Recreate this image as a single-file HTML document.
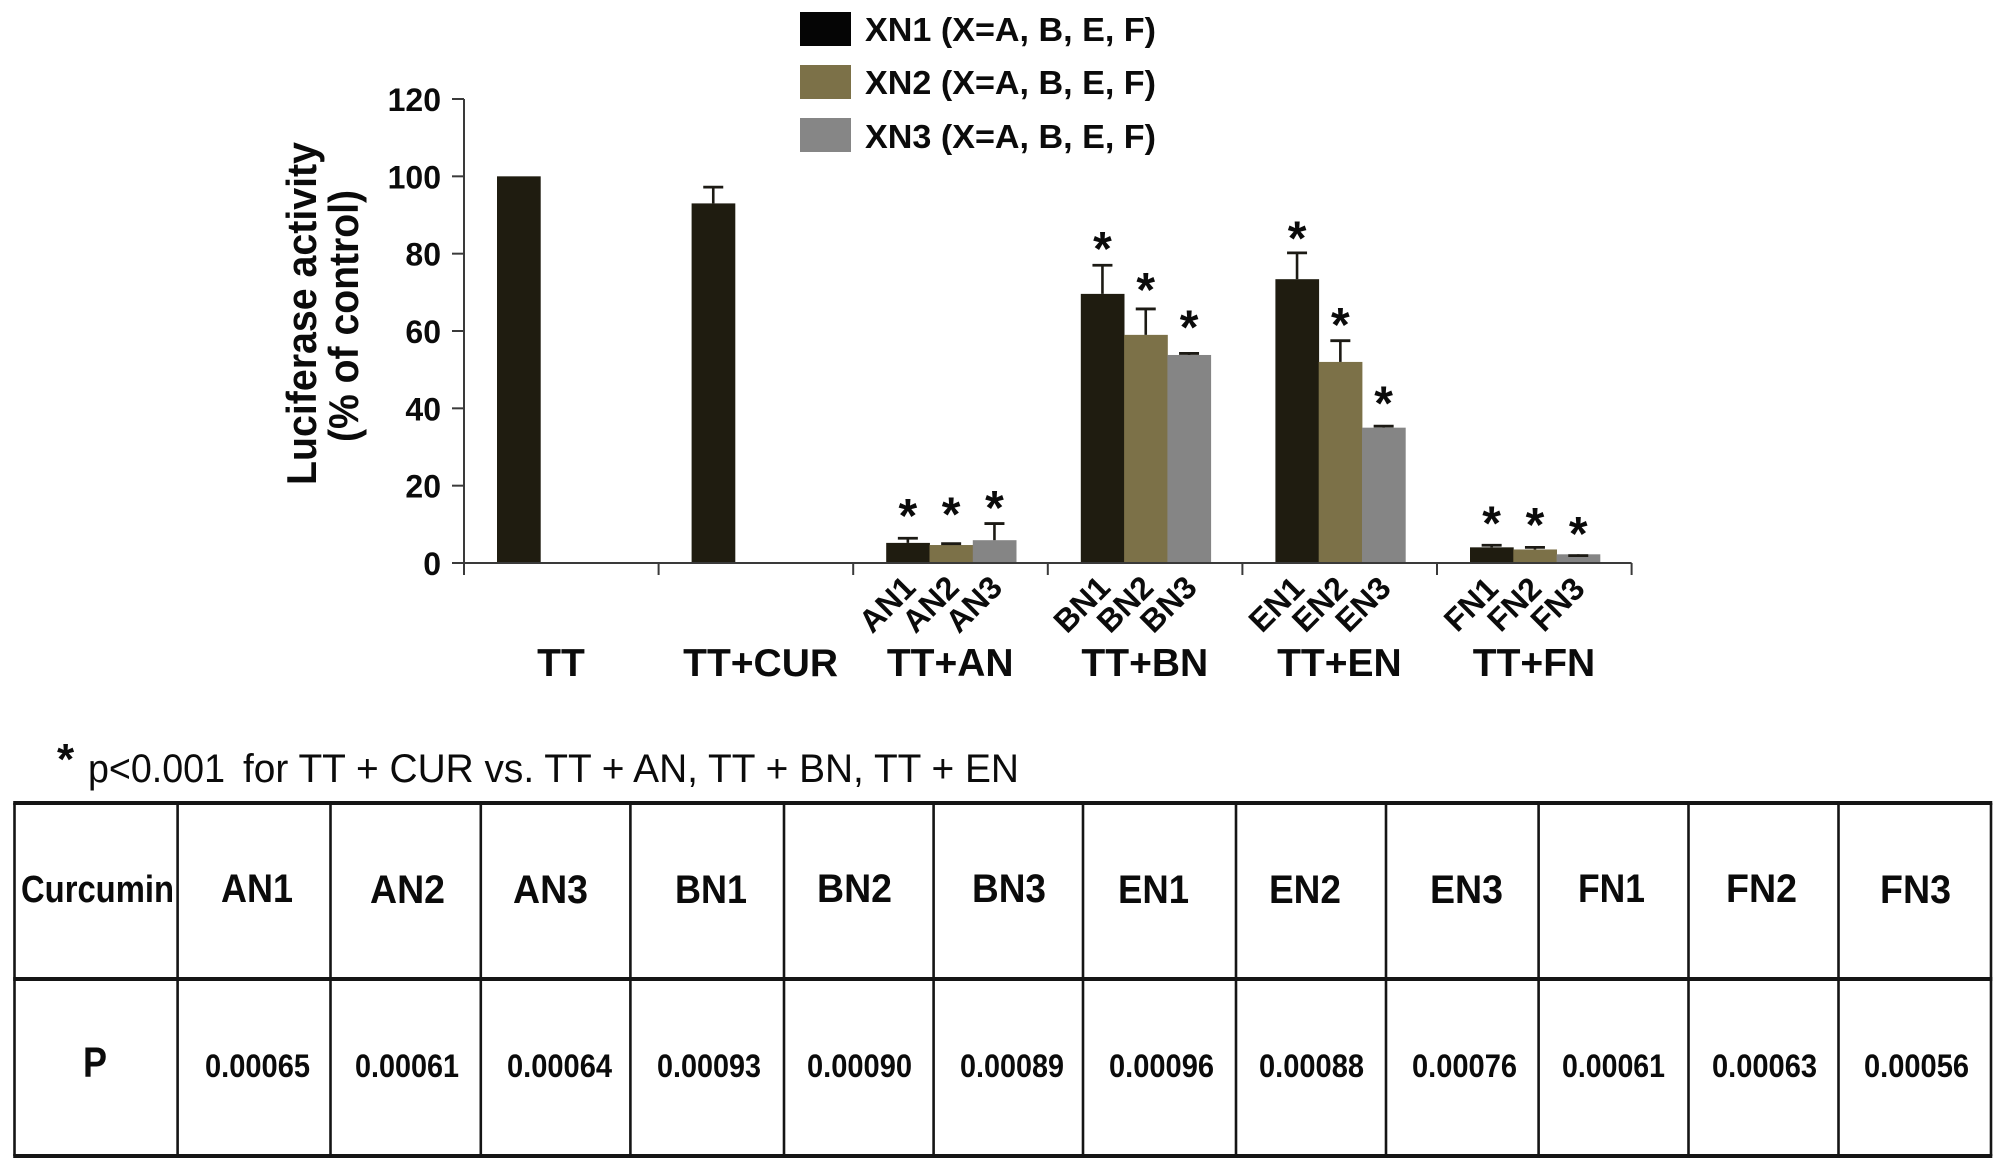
<!DOCTYPE html>
<html lang="en">
<head>
<meta charset="utf-8">
<title>Luciferase activity chart</title>
<style>
html,body{margin:0;padding:0;background:#fff;}
svg{display:block;}
text{font-family:"Liberation Sans",sans-serif;fill:#0b0b0b;}
.b{font-weight:bold;}
.hl{stroke:#151515;stroke-width:4;}
.vl{stroke:#151515;stroke-width:2.6;}
.th{font-weight:bold;font-size:40px;}
.tv{font-weight:bold;font-size:32px;}
</style>
</head>
<body>
<svg id="fig" xmlns="http://www.w3.org/2000/svg" width="2009" height="1169" viewBox="0 0 2009 1169">
  <rect x="0" y="0" width="2009" height="1169" fill="#fff"/>

  <g>
    <g>
      <rect x="800" y="12" width="51" height="34" fill="#050505"/>
      <text class="b" x="865" y="41" font-size="33" textLength="291" lengthAdjust="spacingAndGlyphs">XN1 (X=A, B, E, F)</text>
    </g>
    <g>
      <rect x="800" y="65" width="51" height="34" fill="#7c7148"/>
      <text class="b" x="865" y="94" font-size="33" textLength="291" lengthAdjust="spacingAndGlyphs">XN2 (X=A, B, E, F)</text>
    </g>
    <g>
      <rect x="800" y="118" width="51" height="34" fill="#868686"/>
      <text class="b" x="865" y="148" font-size="33" textLength="291" lengthAdjust="spacingAndGlyphs">XN3 (X=A, B, E, F)</text>
    </g>
  </g>

  <text class="b" font-size="42" transform="translate(316 485) rotate(-90)" x="0" y="0" textLength="343" lengthAdjust="spacingAndGlyphs">Luciferase activity</text>
  <text class="b" font-size="42" transform="translate(358 442) rotate(-90)" x="0" y="0" textLength="252" lengthAdjust="spacingAndGlyphs">(% of control)</text>

  <g id="chart"></g>

  <g>
    <text class="b" x="57" y="774" font-size="44">*</text>
    <text x="88" y="782" font-size="40" textLength="137" lengthAdjust="spacingAndGlyphs">p&lt;0.001</text>
    <text x="243" y="782" font-size="40" textLength="776" lengthAdjust="spacingAndGlyphs">for TT + CUR vs. TT + AN, TT + BN, TT + EN</text>
  </g>

  <g>
    <line class="hl" x1="13.2" x2="1992.3" y1="803" y2="803"/>
    <line class="hl" x1="13.2" x2="1992.3" y1="979" y2="979"/>
    <line class="hl" x1="13.2" x2="1992.3" y1="1156" y2="1156"/>
    <line class="vl" x1="14.5" x2="14.5" y1="803" y2="1156"/>
    <line class="vl" x1="177.6" x2="177.6" y1="803" y2="1156"/>
    <line class="vl" x1="330.5" x2="330.5" y1="803" y2="1156"/>
    <line class="vl" x1="480.8" x2="480.8" y1="803" y2="1156"/>
    <line class="vl" x1="630.4" x2="630.4" y1="803" y2="1156"/>
    <line class="vl" x1="784" x2="784" y1="803" y2="1156"/>
    <line class="vl" x1="933.6" x2="933.6" y1="803" y2="1156"/>
    <line class="vl" x1="1083" x2="1083" y1="803" y2="1156"/>
    <line class="vl" x1="1236" x2="1236" y1="803" y2="1156"/>
    <line class="vl" x1="1386" x2="1386" y1="803" y2="1156"/>
    <line class="vl" x1="1538.6" x2="1538.6" y1="803" y2="1156"/>
    <line class="vl" x1="1688.5" x2="1688.5" y1="803" y2="1156"/>
    <line class="vl" x1="1838.5" x2="1838.5" y1="803" y2="1156"/>
    <line class="vl" x1="1991" x2="1991" y1="803" y2="1156"/>

    <text class="b" font-size="38" x="21" y="902" textLength="153" lengthAdjust="spacingAndGlyphs">Curcumin</text>
    <text class="th" x="221" y="902" textLength="72" lengthAdjust="spacingAndGlyphs">AN1</text>
    <text class="th" x="370" y="903" textLength="75" lengthAdjust="spacingAndGlyphs">AN2</text>
    <text class="th" x="513" y="903" textLength="75" lengthAdjust="spacingAndGlyphs">AN3</text>
    <text class="th" x="675" y="903" textLength="72" lengthAdjust="spacingAndGlyphs">BN1</text>
    <text class="th" x="817" y="902" textLength="75" lengthAdjust="spacingAndGlyphs">BN2</text>
    <text class="th" x="972" y="902" textLength="74" lengthAdjust="spacingAndGlyphs">BN3</text>
    <text class="th" x="1118" y="903" textLength="71" lengthAdjust="spacingAndGlyphs">EN1</text>
    <text class="th" x="1269" y="903" textLength="72" lengthAdjust="spacingAndGlyphs">EN2</text>
    <text class="th" x="1430" y="903" textLength="73" lengthAdjust="spacingAndGlyphs">EN3</text>
    <text class="th" x="1578" y="902" textLength="67" lengthAdjust="spacingAndGlyphs">FN1</text>
    <text class="th" x="1726" y="902" textLength="71" lengthAdjust="spacingAndGlyphs">FN2</text>
    <text class="th" x="1880" y="903" textLength="71" lengthAdjust="spacingAndGlyphs">FN3</text>

    <text class="b" font-size="43" x="83" y="1077" textLength="24" lengthAdjust="spacingAndGlyphs">P</text>
    <text class="tv" x="205" y="1077" textLength="105" lengthAdjust="spacingAndGlyphs">0.00065</text>
    <text class="tv" x="355" y="1077" textLength="104" lengthAdjust="spacingAndGlyphs">0.00061</text>
    <text class="tv" x="507" y="1077" textLength="105" lengthAdjust="spacingAndGlyphs">0.00064</text>
    <text class="tv" x="657" y="1077" textLength="104" lengthAdjust="spacingAndGlyphs">0.00093</text>
    <text class="tv" x="807" y="1077" textLength="105" lengthAdjust="spacingAndGlyphs">0.00090</text>
    <text class="tv" x="960" y="1077" textLength="104" lengthAdjust="spacingAndGlyphs">0.00089</text>
    <text class="tv" x="1109" y="1077" textLength="105" lengthAdjust="spacingAndGlyphs">0.00096</text>
    <text class="tv" x="1259" y="1077" textLength="105" lengthAdjust="spacingAndGlyphs">0.00088</text>
    <text class="tv" x="1412" y="1077" textLength="105" lengthAdjust="spacingAndGlyphs">0.00076</text>
    <text class="tv" x="1562" y="1077" textLength="103" lengthAdjust="spacingAndGlyphs">0.00061</text>
    <text class="tv" x="1712" y="1077" textLength="105" lengthAdjust="spacingAndGlyphs">0.00063</text>
    <text class="tv" x="1864" y="1077" textLength="105" lengthAdjust="spacingAndGlyphs">0.00056</text>
  </g>
</svg>

<script>
const groupLabels = ['TT', 'TT+CUR', 'TT+AN', 'TT+BN', 'TT+EN', 'TT+FN'];
const yTicks = [0, 20, 40, 60, 80, 100, 120];
const barLabelsXN1 = ['', '', 'AN1', 'BN1', 'EN1', 'FN1'];
const barLabelsXN2 = ['', '', 'AN2', 'BN2', 'EN2', 'FN2'];
const barLabelsXN3 = ['', '', 'AN3', 'BN3', 'EN3', 'FN3'];
const valuesXN1 = [100, 93, 5.2, 69.6, 73.4, 4.05];
const valuesXN2 = [null, null, 4.65, 59, 52, 3.5];
const valuesXN3 = [null, null, 5.9, 53.8, 35, 2.25];
const errorsXN1 = [null, 4.2, 1.2, 7.4, 6.8, 0.55];
const errorsXN2 = [null, null, 0.35, 6.7, 5.5, 0.55];
const errorsXN3 = [null, null, 4.3, 0.4, 0.4, -0.35];
const starLevelsXN1 = [null, null, 14, 83, 85.7, 12];
const starLevelsXN2 = [null, null, 14.3, 72.4, 63.4, 11.6];
const starLevelsXN3 = [null, null, 16, 62.7, 43, 9.3];

const NS = 'http://www.w3.org/2000/svg';
const chart = document.getElementById('chart');
const AXIS_COLOR = '#3a3a3a';
const BAR_COLORS = ['#1f1c10', '#7c7148', '#858585'];
const PLOT_LEFT = 464;
const GROUP_WIDTH = 194.6;
const BAR_OFFSET = 33;
const BAR_WIDTH = 43.3;

function yScale(v) { return 563 - (v / 120) * 464; }
function groupX(i) { return PLOT_LEFT + i * GROUP_WIDTH; }
function barX(g, s) { return groupX(g) + BAR_OFFSET + s * BAR_WIDTH; }

function make(tag, attrs, parent) {
  const el = document.createElementNS(NS, tag);
  for (const k in attrs) el.setAttribute(k, attrs[k]);
  (parent || chart).appendChild(el);
  return el;
}

const seriesValues = [valuesXN1, valuesXN2, valuesXN3];
const seriesErrors = [errorsXN1, errorsXN2, errorsXN3];
const seriesStars = [starLevelsXN1, starLevelsXN2, starLevelsXN3];
const seriesBarLabels = [barLabelsXN1, barLabelsXN2, barLabelsXN3];
const seriesKeys = ['xn1', 'xn2', 'xn3'];

/* bars first, then axes on top */
seriesValues.forEach(function (values, s) {
  values.forEach(function (v, g) {
    if (v === null) return;
    const y = yScale(v);
    const bar = make('rect', { x: barX(g, s), y: y, width: BAR_WIDTH + 0.4, height: yScale(0) - y, fill: BAR_COLORS[s] });
    
    
  });
});

/* error bars */
seriesErrors.forEach(function (errors, s) {
  errors.forEach(function (e, g) {
    if (e === null) return;
    const cx = barX(g, s) + BAR_WIDTH / 2;
    const y1 = yScale(seriesValues[s][g]);
    const y2 = yScale(seriesValues[s][g] + e);
    const whisker = make('line', { x1: cx, x2: cx, y1: y1, y2: y2, stroke: '#1c1a14', 'stroke-width': 2.6 });
    
    
    const cap = make('line', { x1: cx - 10, x2: cx + 10, y1: y2, y2: y2, stroke: '#1c1a14', 'stroke-width': 2.8 });
    
    
  });
});

/* significance stars */
seriesStars.forEach(function (levels, s) {
  levels.forEach(function (level, g) {
    if (level === null) return;
    const star = make('text', { x: barX(g, s) + BAR_WIDTH / 2, y: yScale(level) + 23, 'text-anchor': 'middle', 'font-size': 48, 'font-weight': 'bold' });
    star.textContent = '*';
    
    
  });
});

/* y axis */
const yAxisLine = make('line', { x1: PLOT_LEFT, x2: PLOT_LEFT, y1: yScale(120), y2: 575, stroke: AXIS_COLOR, 'stroke-width': 2 });


yTicks.forEach(function (t) {
  const tick = make('line', { x1: 452, x2: PLOT_LEFT, y1: yScale(t), y2: yScale(t), stroke: AXIS_COLOR, 'stroke-width': 2 });
  
  
  const label = make('text', { x: 441, y: yScale(t) + 12, 'text-anchor': 'end', 'font-size': 32, 'font-weight': 'bold' });
  label.textContent = String(t);
  
  
});

/* x axis */
const xAxisLine = make('line', { x1: 452, x2: groupX(groupLabels.length), y1: yScale(0), y2: yScale(0), stroke: AXIS_COLOR, 'stroke-width': 2 });


for (let i = 1; i <= groupLabels.length; i++) {
  const xt = make('line', { x1: groupX(i), x2: groupX(i), y1: yScale(0), y2: 575, stroke: AXIS_COLOR, 'stroke-width': 2 });
  
  
}

/* rotated per-bar labels */
seriesBarLabels.forEach(function (labels, s) {
  labels.forEach(function (name, g) {
    if (!name) return;
    const cx = barX(g, s) + BAR_WIDTH / 2 - 13;
    const t = make('text', { transform: 'translate(' + cx + ' 612) rotate(-45)', x: 0, y: 0, 'text-anchor': 'middle', 'font-size': 32, 'font-weight': 'bold' });
    t.textContent = name;
    
    
  });
});

/* group labels: the TT+CUR label sits slightly right of the shared offset */
groupLabels.forEach(function (name, g) {
  const nudge = name === 'TT+CUR' ? 5 : 0;
  const t = make('text', { x: groupX(g) + 97 + nudge, y: 676, 'text-anchor': 'middle', 'font-size': 39, 'font-weight': 'bold' });
  t.textContent = name;
  
  
});
</script>
</body>
</html>
